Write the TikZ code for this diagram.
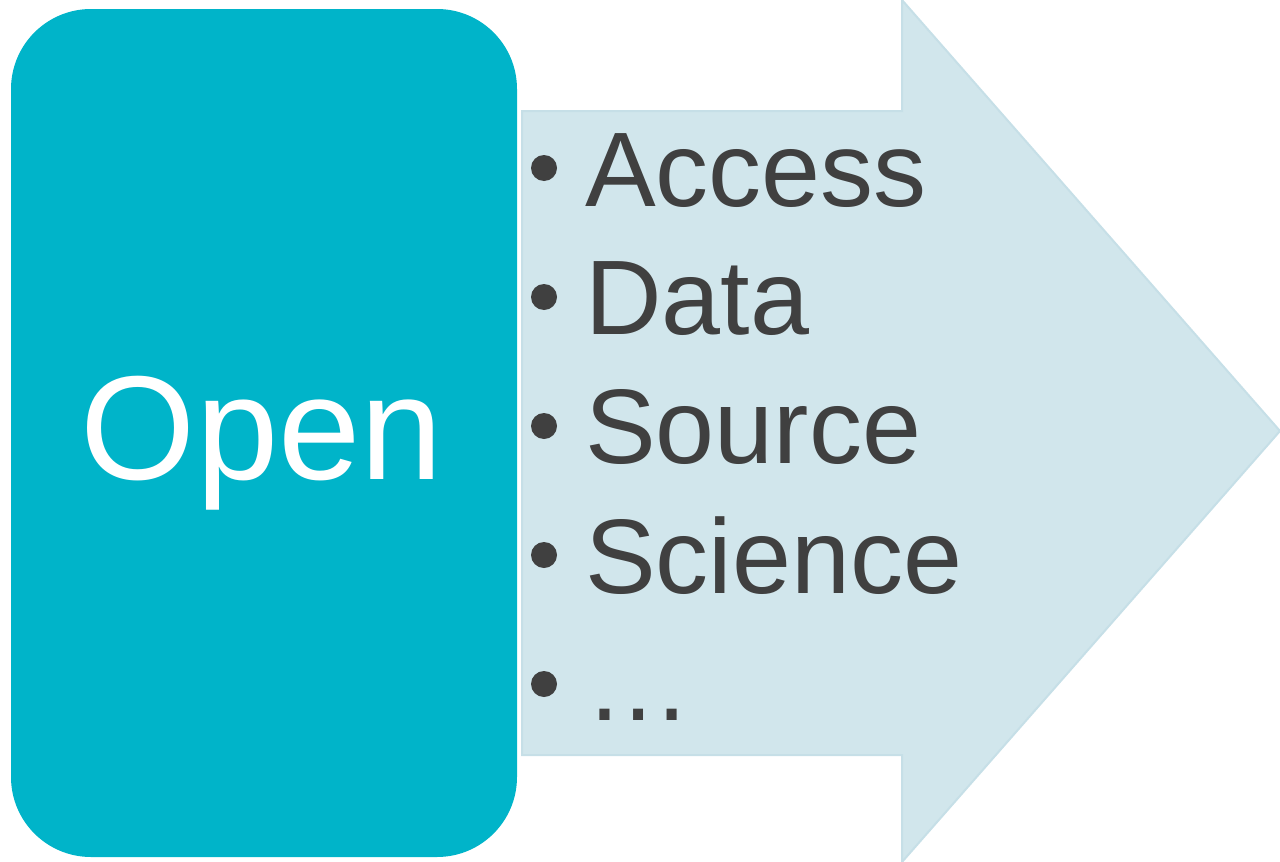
\documentclass[tikz,border=0pt]{standalone}
\usepackage{fontspec}
\setmainfont{Liberation Sans}
\usetikzlibrary{positioning, calc}
\definecolor{openteal}{HTML}{00B4C9}
\definecolor{arrowfill}{HTML}{D1E6EC}
\definecolor{arrowline}{HTML}{C6DFE7}
\definecolor{itemgrey}{HTML}{404040}

\begin{document}
\begin{tikzpicture}[x=1pt, y=-1pt,
	openbox/.style={fill=openteal, rounded corners=80pt, minimum width=506pt, minimum height=848pt, inner sep=0pt},
	item/.style={anchor=base west, inner sep=0pt, text=itemgrey, font=\fontsize{106}{110}\selectfont}]
	\useasboundingbox (0, 0) rectangle (1280, 862);
	\fill[arrowfill, draw=arrowline, line width=2pt, line join=miter]
		(522, 111) -- (902, 111) -- (902, 0) -- (1280, 431) -- (902, 862) -- (902, 755) -- (522, 755) -- cycle;
	\node[openbox] (open) at (264, 433) {};
	\node[anchor=base, inner sep=0pt, text=white, font=\fontsize{148}{150}\selectfont] (opentext) at (262, 479) {Open};
	\node[item] (access) at (585, 206) {Access};
	\node[item] (data) at (585, 334) {Data};
	\node[item] (source) at (585, 463) {Source};
	\node[item] (science) at (585, 593) {Science};
	\node[item] (more) at (585, 720) {…};
	\foreach \y in {168, 297, 426, 555, 684}
		\fill[itemgrey] (544, \y) circle[radius=13pt];
\end{tikzpicture}
\end{document}
